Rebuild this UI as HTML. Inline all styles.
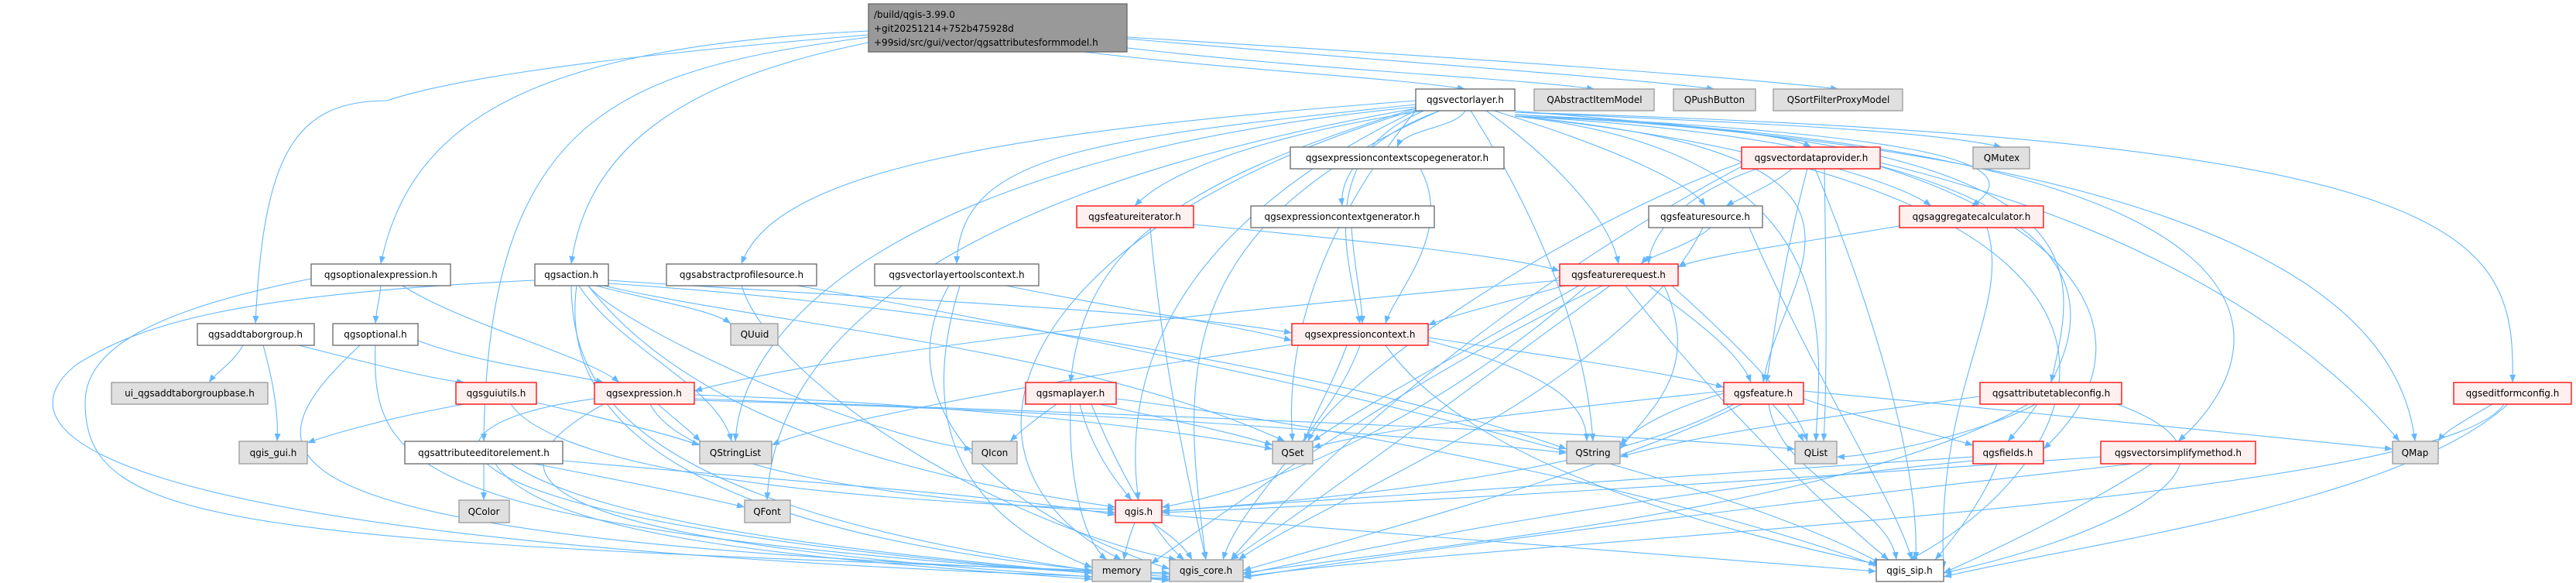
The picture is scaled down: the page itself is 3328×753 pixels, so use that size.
<!DOCTYPE html>
<html><head><meta charset="utf-8">
<style>
html,body{margin:0;padding:0;background:#fff;}
svg{display:block;}
text{font-family:"DejaVu Sans","Liberation Sans",sans-serif;font-size:12px;fill:#000;}
.e{fill:none;stroke:#63b8ff;stroke-width:1.1;marker-end:url(#a);}
.w{fill:#fff;stroke:#666;stroke-width:1.3;}
.r{fill:#fff0f0;stroke:#f00;stroke-width:1.3;}
.g{fill:#e0e0e0;stroke:#999;stroke-width:1.3;}
.m{fill:#999;stroke:#666;stroke-width:1.3;}
</style></head><body>
<svg width="3328" height="753" viewBox="0 0 3328 753" xmlns="http://www.w3.org/2000/svg">
<defs><marker id="a" markerWidth="10" markerHeight="8" refX="10" refY="4" orient="auto" markerUnits="userSpaceOnUse"><path d="M0,0 L10,4 L0,8z" fill="#63b8ff"/></marker></defs>
<g>
<!-- main -->
<path class="e" d="M1400 67 C1600 91 1800 100 1893 115"/>
<path class="e" d="M1440 60 C1700 91 1950 100 2060 115"/>
<path class="e" d="M1456 50 C1800 80 2100 100 2215 115"/>
<path class="e" d="M1456 48 C1900 75 2250 100 2375 115"/>
<path class="e" d="M1122 40 C700 60 530 150 492 341"/>
<path class="e" d="M1122 55 C900 100 760 180 738 341"/>
<path class="e" d="M1122 45 C700 80 560 110 500 130 C380 130 340 200 330 418"/>
<path class="e" d="M1122 48 C800 90 630 150 625 570"/>
<!-- vectorlayer -->
<path class="e" d="M1893 143 C1880 166 1815 166 1805 190"/>
<path class="e" d="M1860 143 C1760 180 1730 230 1734 266"/>
<path class="e" d="M1840 143 C1600 180 1500 230 1466 266"/>
<path class="e" d="M1930 143 C2050 180 2180 230 2203 266"/>
<path class="e" d="M1829 135 C1400 180 1240 200 1236 341"/>
<path class="e" d="M1920 143 C2000 200 2080 280 2091 341"/>
<path class="e" d="M1829 130 C1300 170 1000 220 958 341"/>
<path class="e" d="M1957 143 C2150 160 2300 170 2340 190"/>
<path class="e" d="M1957 145 C2300 160 2500 170 2586 190"/>
<path class="e" d="M1957 148 C2400 170 2650 200 2547 266"/>
<path class="e" d="M1840 143 C1700 200 1740 330 1757 418"/>
<path class="e" d="M1829 140 C1500 240 1400 330 1383 494"/>
<path class="e" d="M1957 150 C2500 200 2300 350 2278 494"/>
<path class="e" d="M1957 150 C2750 180 2680 350 2650 494"/>
<path class="e" d="M1957 145 C3200 180 3250 300 3246 494"/>
<path class="e" d="M1829 143 C1700 300 1660 450 1670 570"/>
<path class="e" d="M1900 143 C2000 300 2050 450 2058 570"/>
<path class="e" d="M1957 150 C2400 200 2350 450 2346 570"/>
<path class="e" d="M1957 150 C2850 200 2700 450 2594 570"/>
<path class="e" d="M1957 150 C3000 190 2950 450 2814 570"/>
<path class="e" d="M1957 148 C2900 200 3100 400 3120 570"/>
<path class="e" d="M1829 138 C1200 200 960 400 950 570"/>
<path class="e" d="M1829 140 C1200 250 1000 450 991 646"/>
<path class="e" d="M1829 143 C1500 300 1450 500 1471 646"/>
<path class="e" d="M1860 143 C1500 300 1530 500 1558 723"/>
<path class="e" d="M1829 142 C1300 300 1200 600 1449 723"/>
<path class="e" d="M1957 150 C2900 250 2700 600 2467 723"/>
<!-- optionalexpression -->
<path class="e" d="M492 369 C490 390 486 400 485 418"/>
<path class="e" d="M520 369 C600 420 760 460 800 494"/>
<path class="e" d="M402 360 C200 400 110 450 110 520 C110 680 300 700 1511 740"/>
<!-- action -->
<path class="e" d="M770 369 C850 390 920 400 944 418"/>
<path class="e" d="M786 362 C1200 390 1500 400 1669 430"/>
<path class="e" d="M780 369 C1000 420 1400 450 1660 570"/>
<path class="e" d="M786 366 C1300 400 1800 500 2024 580"/>
<path class="e" d="M760 369 C800 420 1100 560 1256 580"/>
<path class="e" d="M745 369 C720 550 900 700 1511 745"/>
<path class="e" d="M738 369 C740 500 800 650 1411 737"/>
<path class="e" d="M760 369 C900 550 1200 620 1441 655"/>
<path class="e" d="M748 369 C800 450 930 500 945 570"/>
<path class="e" d="M691 362 C300 380 180 420 100 470 C10 540 10 700 1511 748"/>
<!-- absprof -->
<path class="e" d="M958 369 C1000 500 1300 680 1520 723"/>
<path class="e" d="M1030 369 C1500 450 2200 600 2430 728"/>
<!-- addtaborgroup -->
<path class="e" d="M314 446 C300 470 280 480 270 494"/>
<path class="e" d="M340 446 C355 500 360 540 358 570"/>
<path class="e" d="M386 446 C480 470 560 490 600 494"/>
<!-- optional -->
<path class="e" d="M540 440 C620 470 720 480 780 494"/>
<path class="e" d="M485 446 C480 600 520 680 1411 740"/>
<path class="e" d="M465 446 C300 600 300 700 1520 742"/>
<!-- guiutils -->
<path class="e" d="M600 522 C500 540 430 560 397 572"/>
<path class="e" d="M693 520 C780 540 860 560 904 575"/>
<path class="e" d="M660 522 C700 580 900 640 1441 658"/>
<!-- expression -->
<path class="e" d="M850 522 C870 540 890 555 905 570"/>
<path class="e" d="M897 510 C1200 520 1500 550 1644 580"/>
<path class="e" d="M897 515 C1600 540 2100 560 2319 580"/>
<path class="e" d="M840 522 C880 600 1100 640 1441 662"/>
<path class="e" d="M768 515 C500 550 500 680 1520 748"/>
<path class="e" d="M780 522 C600 620 700 700 1411 745"/>
<path class="e" d="M897 517 C1400 530 1800 560 2024 585"/>
<!-- attredit -->
<path class="e" d="M625 599 C625 620 625 630 625 646"/>
<path class="e" d="M690 599 C800 620 900 640 962 655"/>
<path class="e" d="M727 595 C1000 620 1300 640 1441 665"/>
<path class="e" d="M660 599 C800 690 1200 720 1511 750"/>
<path class="e" d="M640 599 C700 690 1000 720 1411 748"/>
<!-- vltc -->
<path class="e" d="M1300 369 C1450 400 1600 420 1669 440"/>
<path class="e" d="M1226 369 C1150 500 1250 650 1511 735"/>
<path class="e" d="M1240 369 C1200 500 1200 650 1411 733"/>
<!-- fiter -->
<path class="e" d="M1542 290 C1750 310 1950 330 2015 350"/>
<path class="e" d="M1486 294 C1500 450 1530 600 1558 723"/>
<!-- ecsg / ecg -->
<path class="e" d="M1835 218 C1880 300 1800 380 1790 418"/>
<path class="e" d="M1746 294 C1750 350 1760 390 1760 418"/>
<!-- featuresource -->
<path class="e" d="M2210 294 C2180 320 2130 330 2120 341"/>
<path class="e" d="M2200 294 C2100 500 1700 650 1600 723"/>
<path class="e" d="M2260 294 C2350 500 2450 650 2470 723"/>
<!-- vdp -->
<path class="e" d="M2315 218 C2290 240 2240 260 2230 266"/>
<path class="e" d="M2375 218 C2450 240 2480 255 2495 266"/>
<path class="e" d="M2270 218 C2150 260 2130 320 2130 341"/>
<path class="e" d="M2335 218 C2300 350 2290 450 2282 494"/>
<path class="e" d="M2250 210 C2000 300 1720 500 1690 570"/>
<path class="e" d="M2357 218 C2360 400 2360 500 2356 570"/>
<path class="e" d="M2429 210 C2800 300 3000 450 3100 570"/>
<path class="e" d="M2250 215 C1900 400 1650 650 1590 723"/>
<path class="e" d="M2345 218 C2420 400 2480 600 2475 723"/>
<path class="e" d="M2429 215 C2700 300 2780 450 2640 580"/>
<!-- aggc -->
<path class="e" d="M2465 290 C2350 310 2200 330 2168 345"/>
<path class="e" d="M2567 294 C2600 400 2500 500 2511 735"/>
<!-- freq -->
<path class="e" d="M2020 369 C1950 390 1880 405 1845 420"/>
<path class="e" d="M2130 369 C2200 420 2250 460 2262 494"/>
<path class="e" d="M2015 362 C1600 400 1100 450 897 505"/>
<path class="e" d="M2150 369 C2200 480 2130 530 2093 580"/>
<path class="e" d="M2160 369 C2250 450 2320 520 2335 570"/>
<path class="e" d="M2080 369 C1900 500 1700 650 1590 723"/>
<path class="e" d="M2070 369 C1800 500 1600 650 1487 728"/>
<path class="e" d="M2050 369 C1900 500 1700 620 1501 655"/>
<path class="e" d="M2100 369 C2200 500 2350 650 2440 723"/>
<path class="e" d="M2040 369 C1900 450 1750 530 1696 570"/>
<!-- expctx -->
<path class="e" d="M1740 446 C1720 500 1700 530 1685 570"/>
<path class="e" d="M1845 440 C2000 480 2050 520 2050 570"/>
<path class="e" d="M1669 445 C1300 500 1050 550 997 575"/>
<path class="e" d="M1845 436 C2000 460 2150 480 2227 500"/>
<path class="e" d="M1757 446 C1720 550 1600 650 1580 723"/>
<path class="e" d="M1790 446 C1900 600 2200 680 2430 730"/>
<!-- maplayer -->
<path class="e" d="M1365 522 C1340 540 1320 555 1305 570"/>
<path class="e" d="M1420 522 C1500 540 1600 560 1644 575"/>
<path class="e" d="M1395 522 C1410 580 1440 620 1462 646"/>
<path class="e" d="M1383 522 C1380 620 1400 700 1430 723"/>
<path class="e" d="M1410 522 C1450 620 1500 700 1530 723"/>
<path class="e" d="M1442 515 C1800 560 2200 650 2424 730"/>
<!-- feature -->
<path class="e" d="M2290 522 C2310 545 2325 560 2330 570"/>
<path class="e" d="M2330 515 C2400 540 2500 560 2549 575"/>
<path class="e" d="M2330 505 C2600 530 2900 560 3091 580"/>
<path class="e" d="M2227 505 C2000 530 1800 550 1696 578"/>
<path class="e" d="M2227 508 C2150 530 2110 555 2093 575"/>
<path class="e" d="M2250 522 C2100 600 1800 680 1606 737"/>
<path class="e" d="M2285 522 C2300 620 2440 650 2450 723"/>
<path class="e" d="M2240 522 C2100 600 1800 640 1501 660"/>
<!-- attrtab -->
<path class="e" d="M2630 522 C2560 560 2420 590 2373 590"/>
<path class="e" d="M2620 522 C2400 650 1900 700 1606 740"/>
<path class="e" d="M2735 522 C2950 600 2700 700 2511 740"/>
<path class="e" d="M2558 512 C2350 540 2200 560 2093 590"/>
<!-- editform -->
<path class="e" d="M3220 522 C3190 540 3160 555 3150 570"/>
<path class="e" d="M3240 522 C3100 650 2700 700 2511 745"/>
<path class="e" d="M3235 522 C3150 650 1900 700 1606 745"/>
<!-- fields -->
<path class="e" d="M2580 599 C2560 650 2520 700 2500 723"/>
<path class="e" d="M2549 595 C2100 640 1800 700 1606 742"/>
<path class="e" d="M2549 590 C2100 620 1700 650 1501 660"/>
<!-- vsm -->
<path class="e" d="M2780 599 C2700 650 2600 700 2511 740"/>
<path class="e" d="M2756 599 C2300 650 1900 700 1606 746"/>
<path class="e" d="M2714 590 C2300 620 1800 650 1501 662"/>
<!-- qgis -->
<path class="e" d="M1466 675 C1460 690 1455 705 1452 723"/>
<path class="e" d="M1488 675 C1510 690 1530 705 1540 723"/>
<path class="e" d="M1501 665 C1800 690 2200 720 2424 738"/>
</g>
<g>
<rect class="m" x="1122" y="5" width="334" height="62"/>
<text x="1129" y="23">/build/qgis-3.99.0</text>
<text x="1129" y="41">+git20251214+752b475928d</text>
<text x="1129" y="59">+99sid/src/gui/vector/qgsattributesformmodel.h</text>

<rect class="w" x="1829" y="115" width="128" height="28"/><text x="1893" y="133" text-anchor="middle">qgsvectorlayer.h</text>
<rect class="g" x="1982" y="115" width="155" height="28"/><text x="2060" y="133" text-anchor="middle">QAbstractItemModel</text>
<rect class="g" x="2162" y="115" width="106" height="28"/><text x="2215" y="133" text-anchor="middle">QPushButton</text>
<rect class="g" x="2291" y="115" width="167" height="28"/><text x="2375" y="133" text-anchor="middle">QSortFilterProxyModel</text>

<rect class="w" x="1667" y="190" width="276" height="28"/><text x="1805" y="208" text-anchor="middle">qgsexpressioncontextscopegenerator.h</text>
<rect class="r" x="2250" y="190" width="179" height="28"/><text x="2340" y="208" text-anchor="middle">qgsvectordataprovider.h</text>
<rect class="g" x="2549" y="190" width="73" height="28"/><text x="2586" y="208" text-anchor="middle">QMutex</text>

<rect class="r" x="1391" y="266" width="151" height="28"/><text x="1466" y="284" text-anchor="middle">qgsfeatureiterator.h</text>
<rect class="w" x="1616" y="266" width="237" height="28"/><text x="1734" y="284" text-anchor="middle">qgsexpressioncontextgenerator.h</text>
<rect class="w" x="2130" y="266" width="147" height="28"/><text x="2203" y="284" text-anchor="middle">qgsfeaturesource.h</text>
<rect class="r" x="2454" y="266" width="186" height="28"/><text x="2547" y="284" text-anchor="middle">qgsaggregatecalculator.h</text>

<rect class="w" x="402" y="341" width="180" height="28"/><text x="492" y="359" text-anchor="middle">qgsoptionalexpression.h</text>
<rect class="w" x="691" y="341" width="95" height="28"/><text x="738" y="359" text-anchor="middle">qgsaction.h</text>
<rect class="w" x="861" y="341" width="194" height="28"/><text x="958" y="359" text-anchor="middle">qgsabstractprofilesource.h</text>
<rect class="w" x="1130" y="341" width="212" height="28"/><text x="1236" y="359" text-anchor="middle">qgsvectorlayertoolscontext.h</text>
<rect class="r" x="2015" y="341" width="153" height="28"/><text x="2091" y="359" text-anchor="middle">qgsfeaturerequest.h</text>

<rect class="w" x="255" y="418" width="151" height="28"/><text x="330" y="436" text-anchor="middle">qgsaddtaborgroup.h</text>
<rect class="w" x="430" y="418" width="110" height="28"/><text x="485" y="436" text-anchor="middle">qgsoptional.h</text>
<rect class="g" x="944" y="418" width="61" height="28"/><text x="975" y="436" text-anchor="middle">QUuid</text>
<rect class="r" x="1669" y="418" width="176" height="28"/><text x="1757" y="436" text-anchor="middle">qgsexpressioncontext.h</text>

<rect class="g" x="144" y="494" width="202" height="28"/><text x="245" y="512" text-anchor="middle">ui_qgsaddtaborgroupbase.h</text>
<rect class="r" x="589" y="494" width="104" height="28"/><text x="641" y="512" text-anchor="middle">qgsguiutils.h</text>
<rect class="r" x="768" y="494" width="129" height="28"/><text x="832" y="512" text-anchor="middle">qgsexpression.h</text>
<rect class="r" x="1325" y="494" width="117" height="28"/><text x="1383" y="512" text-anchor="middle">qgsmaplayer.h</text>
<rect class="r" x="2227" y="494" width="103" height="28"/><text x="2278" y="512" text-anchor="middle">qgsfeature.h</text>
<rect class="r" x="2558" y="494" width="183" height="28"/><text x="2650" y="512" text-anchor="middle">qgsattributetableconfig.h</text>
<rect class="r" x="3170" y="494" width="152" height="28"/><text x="3246" y="512" text-anchor="middle">qgseditformconfig.h</text>

<rect class="g" x="309" y="570" width="88" height="29"/><text x="353" y="589" text-anchor="middle">qgis_gui.h</text>
<rect class="w" x="523" y="570" width="204" height="29"/><text x="625" y="589" text-anchor="middle">qgsattributeeditorelement.h</text>
<rect class="g" x="904" y="570" width="93" height="29"/><text x="950" y="589" text-anchor="middle">QStringList</text>
<rect class="g" x="1256" y="570" width="58" height="29"/><text x="1285" y="589" text-anchor="middle">QIcon</text>
<rect class="g" x="1644" y="570" width="52" height="29"/><text x="1670" y="589" text-anchor="middle">QSet</text>
<rect class="g" x="2024" y="570" width="69" height="29"/><text x="2058" y="589" text-anchor="middle">QString</text>
<rect class="g" x="2319" y="570" width="54" height="29"/><text x="2346" y="589" text-anchor="middle">QList</text>
<rect class="r" x="2549" y="570" width="91" height="29"/><text x="2594" y="589" text-anchor="middle">qgsfields.h</text>
<rect class="r" x="2714" y="570" width="200" height="29"/><text x="2814" y="589" text-anchor="middle">qgsvectorsimplifymethod.h</text>
<rect class="g" x="3091" y="570" width="59" height="29"/><text x="3120" y="589" text-anchor="middle">QMap</text>

<rect class="g" x="593" y="646" width="65" height="29"/><text x="625" y="665" text-anchor="middle">QColor</text>
<rect class="g" x="962" y="646" width="59" height="29"/><text x="991" y="665" text-anchor="middle">QFont</text>
<rect class="r" x="1441" y="646" width="60" height="29"/><text x="1471" y="665" text-anchor="middle">qgis.h</text>

<rect class="g" x="1411" y="723" width="76" height="28"/><text x="1449" y="741" text-anchor="middle">memory</text>
<rect class="g" x="1511" y="723" width="95" height="28"/><text x="1558" y="741" text-anchor="middle">qgis_core.h</text>
<rect class="w" x="2424" y="723" width="87" height="28"/><text x="2467" y="741" text-anchor="middle">qgis_sip.h</text>
</g>
</svg>
</body></html>
